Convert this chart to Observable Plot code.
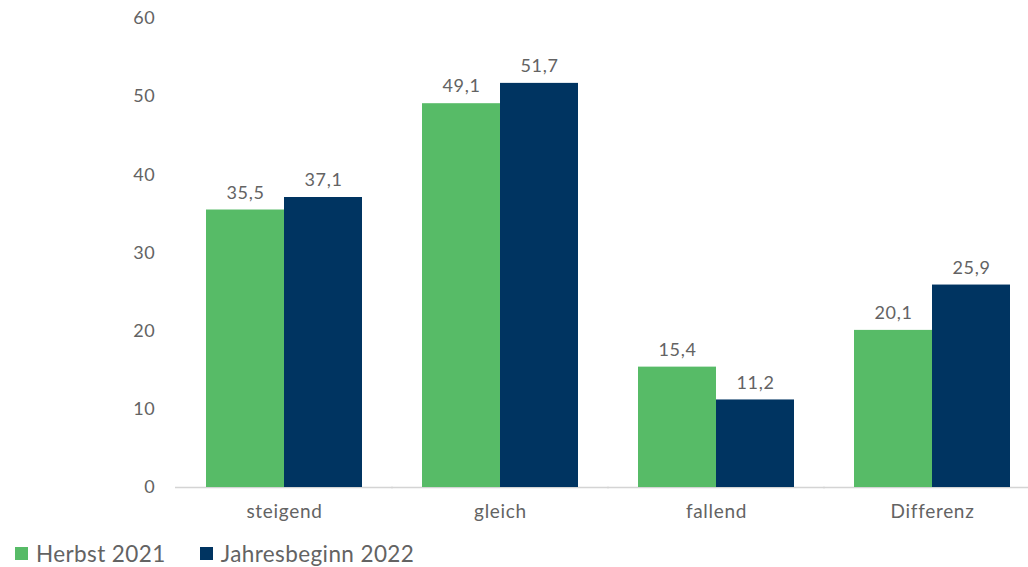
<!DOCTYPE html>
<html>
<head>
<meta charset="utf-8">
<script src="https://cdn.jsdelivr.net/npm/d3@7"></script>
<script src="https://cdn.jsdelivr.net/npm/@observablehq/plot@0.6"></script>
<style>
  html, body { margin: 0; padding: 0; background: #fff; overflow: hidden; }
  #chart svg { overflow: hidden; display: block; }
  #chart svg text { letter-spacing: 0.7px; }
  .legend { position: absolute; top: 540px; left: 15px; display: flex; align-items: center; font-family: "Lato", "Open Sans", sans-serif; font-size: 22.5px; letter-spacing: 0.4px; color: #636363; }
  .legend .item { display: flex; align-items: center; margin-right: 34px; }
  .legend .sw { width: 13px; height: 13px; margin-right: 8px; display: inline-block; }
</style>
</head>
<body>
<div id="chart"></div>
<div class="legend" id="legend"></div>
<script>
const categories = ["steigend", "gleich", "fallend", "Differenz"];
const seriesNames = ["Herbst 2021", "Jahresbeginn 2022"];
const herbst2021 = [35.5, 49.1, 15.4, 20.1];
const jahresbeginn2022 = [37.1, 51.7, 11.2, 25.9];
const yTicks = [0, 10, 20, 30, 40, 50, 60];
const colors = ["#57bb67", "#003461"];

const data = [];
categories.forEach((c, i) => {
  data.push({cat: c, series: seriesNames[0], value: herbst2021[i]});
  data.push({cat: c, series: seriesNames[1], value: jahresbeginn2022[i]});
});
const fmt = v => v.toFixed(1).replace(".", ",");

const chart = Plot.plot({
  width: 1028,
  height: 530,
  marginTop: 18,
  marginBottom: 43,
  marginLeft: 176,
  marginRight: -12,
  style: {fontFamily: "Lato, 'Open Sans', sans-serif", fontSize: "18px", color: "#636363", background: "#fff"},
  fx: {domain: categories, paddingInner: 0.28, paddingOuter: 0.14, label: null, axis: null},
  x: {domain: seriesNames, padding: 0, axis: null},
  y: {domain: [0, 60], ticks: yTicks, label: null},
  color: {domain: seriesNames, range: colors},
  marks: [
    Plot.axisY({ticks: yTicks, tickSize: 0, tickPadding: 51, label: null, fontSize: 18, fill: "#636363"}),
    Plot.ruleY([0], {stroke: "#d4d4d4", strokeWidth: 1.5, insetLeft: -31, insetRight: -31}),
    Plot.barY(data, {fx: "cat", x: "series", y: "value", fill: "series", style: "filter: drop-shadow(2px 1px 1.5px rgba(0,0,0,0.25))"}),
    Plot.text(data, {fx: "cat", x: "series", y: "value", text: d => fmt(d.value), dy: -17, fontSize: 18, fill: "#636363"}),
    Plot.axisFx({anchor: "bottom", tickSize: 0, tickPadding: 17, fontSize: 19, fill: "#636363", label: null})
  ]
});
document.getElementById("chart").appendChild(chart);

const legend = document.getElementById("legend");
seriesNames.forEach((s, i) => {
  const item = document.createElement("div");
  item.className = "item";
  const sw = document.createElement("span");
  sw.className = "sw";
  sw.style.background = colors[i];
  const t = document.createElement("span");
  t.textContent = s;
  item.appendChild(sw);
  item.appendChild(t);
  legend.appendChild(item);
});
</script>
</body>
</html>
